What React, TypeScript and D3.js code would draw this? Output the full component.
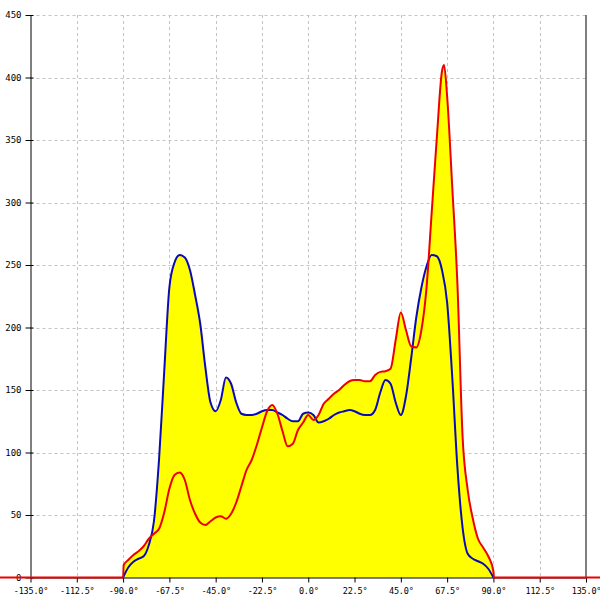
import { useRef, useEffect } from 'react';
import * as d3 from 'd3';

// blue series, sampled every 2.5 degrees from -90 to 90
const blueAngles = [
  -90, -87.5, -85, -82.5, -80, -77.5, -75, -72.5,
  -70, -67.5, -65, -62.5, -60, -57.5, -55, -52.5,
  -50, -47.5, -45, -42.5, -40, -37.5, -35, -32.5,
  -30, -27.5, -25, -22.5, -20, -17.5, -15, -12.5,
  -10, -7.5, -5, -2.5, 0, 2.5, 5, 7.5,
  10, 12.5, 15, 17.5, 20, 22.5, 25, 27.5,
  30, 32.5, 35, 37.5, 40, 42.5, 45, 47.5,
  50, 52.5, 55, 57.5, 60, 62.5, 65, 67.5,
  70, 72.5, 75, 77.5, 80, 82.5, 85, 87.5,
  90,
];
const blueValues = [
  0, 8, 12.6, 15, 17, 26, 45, 95,
  165, 232, 252, 258, 256, 246, 226, 203,
  168, 140, 133, 142, 160, 155, 140, 131,
  130, 130, 131, 133, 134, 134, 132, 130,
  127, 125, 125, 131, 132, 130, 124, 125,
  127, 130, 132, 133, 134, 133, 131, 130,
  130, 134, 148, 158, 155, 140, 130, 145,
  175, 208, 232, 249, 258, 257, 246, 220,
  160, 88, 40, 19, 15, 13, 11, 7,
  0,
];

// red series (runs along zero beyond the data range)
const redAngles = [
  -150, -90, -89.7, -87.5, -85, -82.5, -80, -77.5, -75, -72.5,
  -70, -67.5, -65, -62.5, -60, -57.5, -55, -52.5,
  -50, -47.5, -45, -42.5, -40, -37.5, -35, -32.5,
  -30, -27.5, -25, -22.5, -20, -17.5, -15, -12.5,
  -10, -7.5, -5, -2.5, 0, 2.5, 5, 7.5,
  10, 12.5, 15, 17.5, 20, 22.5, 25, 27.5,
  30, 32.5, 35, 37.5, 40, 42.5, 45, 47.5,
  50, 52.5, 55, 57.5, 60, 62.5, 65, 66, 67.5,
  70, 72.5, 75, 77.5, 80, 82.5, 85, 87.5,
  90, 90.3, 150,
];
const redValues = [
  0, 0, 10, 14, 18, 21, 25, 31, 35, 39,
  52, 71, 82, 84, 78, 62, 51, 44,
  42, 45, 48, 49, 47, 51, 60, 73,
  86, 94, 106, 120, 133, 138, 131, 117,
  105, 107, 118, 124, 130, 126, 130, 139,
  143, 147, 150, 154, 157, 158, 158, 157,
  157, 162, 164.5, 165, 167, 190, 212, 198,
  185, 184, 198, 232, 292, 352, 405, 410, 385,
  312, 235, 113, 70, 47, 31, 24, 17,
  5, 0, 0,
];

const xTicks = [-135, -112.5, -90, -67.5, -45, -22.5, 0, 22.5, 45, 67.5, 90, 112.5, 135];
const yTicks = [0, 50, 100, 150, 200, 250, 300, 350, 400, 450];

const W = 600;
const H = 600;

const App = () => {
  const svgRef = useRef<SVGSVGElement>(null);

  useEffect(() => {
    const svg = d3.select(svgRef.current);
    svg.selectAll('*').remove();

    const x = d3.scaleLinear().domain([-135, 135]).range([30.5, 586]);
    const y = d3.scaleLinear().domain([0, 450]).range([577.5, 15]);

    const blue = blueAngles.map((a, i) => [a, blueValues[i]] as [number, number]);
    const red = redAngles.map((a, i) => [a, redValues[i]] as [number, number]);

    const font = '"DejaVu Sans Mono", monospace';

    // grid
    const grid = svg.append('g');
    grid.selectAll('.hg')
      .data(yTicks.filter(t => t > 0))
      .enter().append('line')
      .attr('x1', x(-135)).attr('x2', x(135))
      .attr('y1', d => Math.round(y(d)) + 0.5).attr('y2', d => Math.round(y(d)) + 0.5)
      .attr('stroke', '#c4c4c4').attr('stroke-dasharray', '3,3');
    grid.selectAll('.vg')
      .data(xTicks.filter(t => t > -135 && t < 135))
      .enter().append('line')
      .attr('y1', y(450)).attr('y2', y(0))
      .attr('x1', d => Math.round(x(d)) + 0.5).attr('x2', d => Math.round(x(d)) + 0.5)
      .attr('stroke', '#c4c4c4').attr('stroke-dasharray', '3,3');

    // fills
    const area = d3.area<[number, number]>()
      .x(d => x(d[0]))
      .y0(y(0))
      .y1(d => y(d[1]))
      .curve(d3.curveMonotoneX);
    svg.append('path').attr('d', area(blue)).attr('fill', '#ffff00');
    svg.append('path').attr('d', area(red.filter(d => d[0] >= -90 && d[0] <= 90.3))).attr('fill', '#ffff00');

    // axes
    const xAxis = svg.append('g')
      .attr('transform', `translate(0,${y(0)})`)
      .call(d3.axisBottom(x).tickValues(xTicks).tickSizeInner(5).tickSizeOuter(0)
        .tickFormat(d => `${(d as number).toFixed(1)}°`));
    xAxis.select('.domain').attr('stroke', '#000');
    xAxis.selectAll('text').attr('font-family', font).attr('font-size', 8.5)
      .attr('letter-spacing', -0.2).attr('fill', '#000').attr('dy', '0.95em');

    const yAxis = svg.append('g')
      .attr('transform', `translate(${x(-135)},0)`)
      .call(d3.axisLeft(y).tickValues(yTicks).tickSizeInner(5).tickSizeOuter(0).tickPadding(4)
        .tickFormat(d => `${d}`));
    yAxis.selectAll('.tick line').attr('x2', 3).attr('x1', -5);
    yAxis.selectAll('text').attr('font-family', font).attr('font-size', 9).attr('fill', '#000');

    svg.append('line')
      .attr('x1', x(135)).attr('x2', x(135))
      .attr('y1', y(450)).attr('y2', y(0))
      .attr('stroke', '#000');

    // lines
    const line = d3.line<[number, number]>()
      .x(d => x(d[0]))
      .y(d => y(d[1]))
      .curve(d3.curveMonotoneX);
    svg.append('path').attr('d', line(blue))
      .attr('fill', 'none').attr('stroke', '#0a0ab8').attr('stroke-width', 2);
    svg.append('path').attr('d', line(red))
      .attr('fill', 'none').attr('stroke', '#ee0000').attr('stroke-width', 2);
  }, []);

  return (
    <svg ref={svgRef} width={W} height={H}
      style={{ position: 'absolute', left: 0, top: 0, background: '#fff' }} />
  );
};

export default App;
